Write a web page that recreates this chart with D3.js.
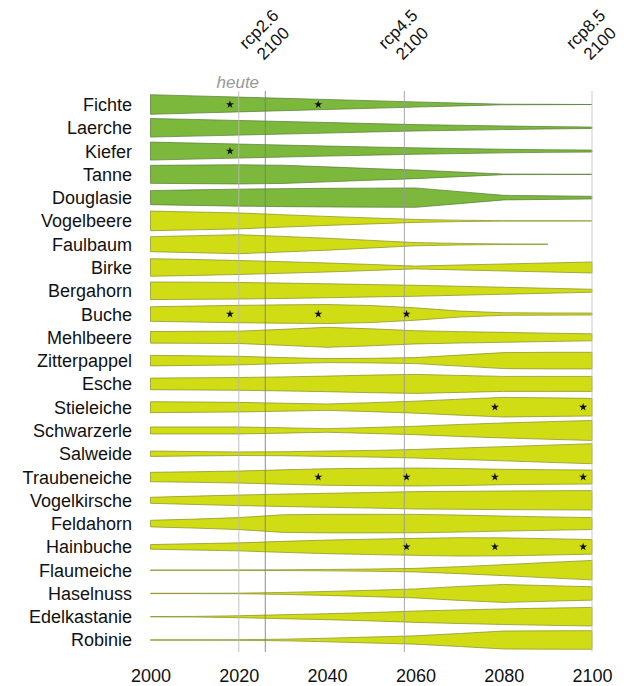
<!DOCTYPE html>
<html lang="de">
<head>
<meta charset="utf-8">
<title>Baumarten Anteile</title>
<script src="https://cdn.jsdelivr.net/npm/d3@7"></script>
<style>
  body { margin: 0; background: #fff; }
  svg text { font-family: "Liberation Sans", Arial, sans-serif; fill: #111; }
</style>
</head>
<body>
<script>
// years of the data points
var years = [2000, 2010, 2020, 2030, 2040, 2050, 2060, 2070, 2080, 2090, 2100];

var species = ["Fichte", "Laerche", "Kiefer", "Tanne", "Douglasie", "Vogelbeere", "Faulbaum",
  "Birke", "Bergahorn", "Buche", "Mehlbeere", "Zitterpappel", "Esche", "Stieleiche",
  "Schwarzerle", "Salweide", "Traubeneiche", "Vogelkirsche", "Feldahorn", "Hainbuche",
  "Flaumeiche", "Haselnuss", "Edelkastanie", "Robinie"];

// Nadelholz = first five
var kind = ["nadel", "nadel", "nadel", "nadel", "nadel", "laub", "laub", "laub", "laub", "laub",
  "laub", "laub", "laub", "laub", "laub", "laub", "laub", "laub", "laub", "laub",
  "laub", "laub", "laub", "laub"];

// relative share (0-100), one row per species, one value per year (null = no value)
var shares = [
  [98, 86, 74, 62, 50, 38, 26, 14, 3, 2, 0],
  [93, 83, 73, 63, 53, 42, 32, 25, 18, 12, 7],
  [90, 80, 70, 60, 50, 41, 32, 25, 18, 13, 10],
  [90, 93, 96, 91, 75, 58, 43, 23, 3, 2, 1],
  [70, 78, 85, 90, 93, 95, 97, 60, 23, 18, 13],
  [98, 89, 80, 62, 45, 30, 15, 7, 2, 1, 0],
  [75, 85, 95, 78, 60, 38, 16, 8, 3, 1, null],
  [88, 80, 70, 58, 45, 30, 14, 25, 35, 45, 55],
  [88, 86, 83, 77, 70, 62, 55, 45, 35, 25, 15],
  [73, 80, 87, 92, 95, 85, 62, 30, 13, 11, 10],
  [58, 60, 62, 80, 100, 85, 66, 57, 50, 42, 35],
  [53, 48, 43, 30, 20, 23, 30, 55, 80, 83, 83],
  [58, 61, 64, 70, 78, 88, 95, 85, 75, 75, 75],
  [55, 52, 48, 40, 32, 45, 60, 80, 98, 93, 88],
  [35, 35, 35, 27, 18, 30, 42, 60, 75, 88, 100],
  [27, 22, 18, 20, 27, 33, 43, 57, 71, 86, 100],
  [47, 53, 60, 72, 83, 87, 90, 85, 77, 73, 70],
  [30, 42, 53, 62, 70, 78, 87, 90, 93, 95, 97],
  [33, 45, 60, 88, 93, 93, 92, 85, 75, 67, 60],
  [23, 32, 40, 55, 68, 77, 85, 92, 90, 82, 73],
  [2, 2, 2, 4, 7, 11, 18, 35, 55, 77, 97],
  [2, 2, 3, 10, 20, 32, 45, 70, 90, 78, 67],
  [2, 3, 10, 20, 30, 42, 57, 68, 78, 86, 93],
  [2, 2, 3, 8, 18, 30, 42, 65, 90, 92, 93]
];

// significance stars
var starSpecies = ["Fichte", "Fichte", "Kiefer", "Buche", "Buche", "Buche",
  "Stieleiche", "Stieleiche", "Traubeneiche", "Traubeneiche", "Traubeneiche", "Traubeneiche",
  "Hainbuche", "Hainbuche", "Hainbuche"];
var starYears = [2018, 2038, 2018, 2018, 2038, 2058,
  2078, 2098, 2038, 2058, 2078, 2098,
  2058, 2078, 2098];

// reference lines
var refYears = [2020, 2026, 2057.5, 2100];
var refLabels = [["heute"], ["rcp2.6", "2100"], ["rcp4.5", "2100"], ["rcp8.5", "2100"]];

var tickYears = [2000, 2020, 2040, 2060, 2080, 2100];

var w = 624, h = 686;

var svg = d3.select("body").append("svg")
  .attr("width", w)
  .attr("height", h);

var x = d3.scaleLinear().domain([2000, 2100]).range([150.5, 592]);
var y = d3.scalePoint().domain(species).range([104.5, 640]);
var half = d3.scaleLinear().domain([0, 100]).range([0, 10]);

var fillColor = { nadel: "#7cb83c", laub: "#d0dc14" };
var strokeColor = { nadel: "#587a35", laub: "#878d24" };

// bands
species.forEach(function(s, k) {
  var cy = y(s);
  var area = d3.area()
    .defined(function(d) { return d != null; })
    .x(function(d, i) { return x(years[i]); })
    .y0(function(d) { return cy + half(d); })
    .y1(function(d) { return cy - half(d); });
  svg.append("path")
    .attr("d", area(shares[k]))
    .attr("fill", fillColor[kind[k]])
    .attr("stroke", strokeColor[kind[k]])
    .attr("stroke-width", 0.7)
    .attr("stroke-linejoin", "round");
});

// species labels
svg.append("g").selectAll("text")
  .data(species)
  .enter()
  .append("text")
  .attr("x", 132)
  .attr("y", function(d) { return y(d); })
  .attr("dy", "0.36em")
  .attr("text-anchor", "end")
  .attr("font-size", "18px")
  .text(function(d) { return d; });

// reference lines
var lineColor = ["#b8b8b8", "#7a7a7a", "#9a9a9a", "#c4c4c4"];
svg.append("g").selectAll("line")
  .data(refYears)
  .enter()
  .append("line")
  .attr("x1", function(d) { return x(d); })
  .attr("x2", function(d) { return x(d); })
  .attr("y1", 91)
  .attr("y2", 652)
  .attr("stroke", function(d, i) { return lineColor[i]; })
  .attr("stroke-opacity", 0.85)
  .attr("stroke-width", 1);

// heute
svg.append("text")
  .attr("x", x(refYears[0]) - 1)
  .attr("y", 88)
  .attr("text-anchor", "middle")
  .attr("font-size", "17px")
  .attr("font-style", "italic")
  .style("fill", "#999")
  .text(refLabels[0][0]);

// rotated scenario labels
refYears.slice(1).forEach(function(yr, i) {
  var lab = refLabels[i + 1];
  var g = svg.append("g")
    .attr("transform", "translate(" + (x(yr) - 20) + ",51) rotate(-45)");
  var t = g.append("text")
    .attr("text-anchor", "middle")
    .attr("font-size", "17px");
  t.append("tspan").attr("x", 25).attr("y", 0).text(lab[0]);
  t.append("tspan").attr("x", 25).attr("y", 20).text(lab[1]);
});

// stars
svg.append("g").selectAll("path")
  .data(starYears)
  .enter()
  .append("path")
  .attr("d", d3.symbol().type(d3.symbolStar).size(20))
  .attr("transform", function(d, i) {
    return "translate(" + x(d) + "," + y(starSpecies[i]) + ")";
  })
  .attr("fill", "#111");

// x axis
var xAxis = d3.axisBottom(x)
  .tickValues(tickYears)
  .tickFormat(d3.format("d"))
  .tickSize(0)
  .tickPadding(3);

var ax = svg.append("g")
  .attr("transform", "translate(0,666)")
  .call(xAxis);
ax.select(".domain").remove();
ax.selectAll("text")
  .attr("font-size", "18px")
  .attr("font-family", "Liberation Sans, Arial, sans-serif")
  .style("fill", "#111");
</script>
</body>
</html>
